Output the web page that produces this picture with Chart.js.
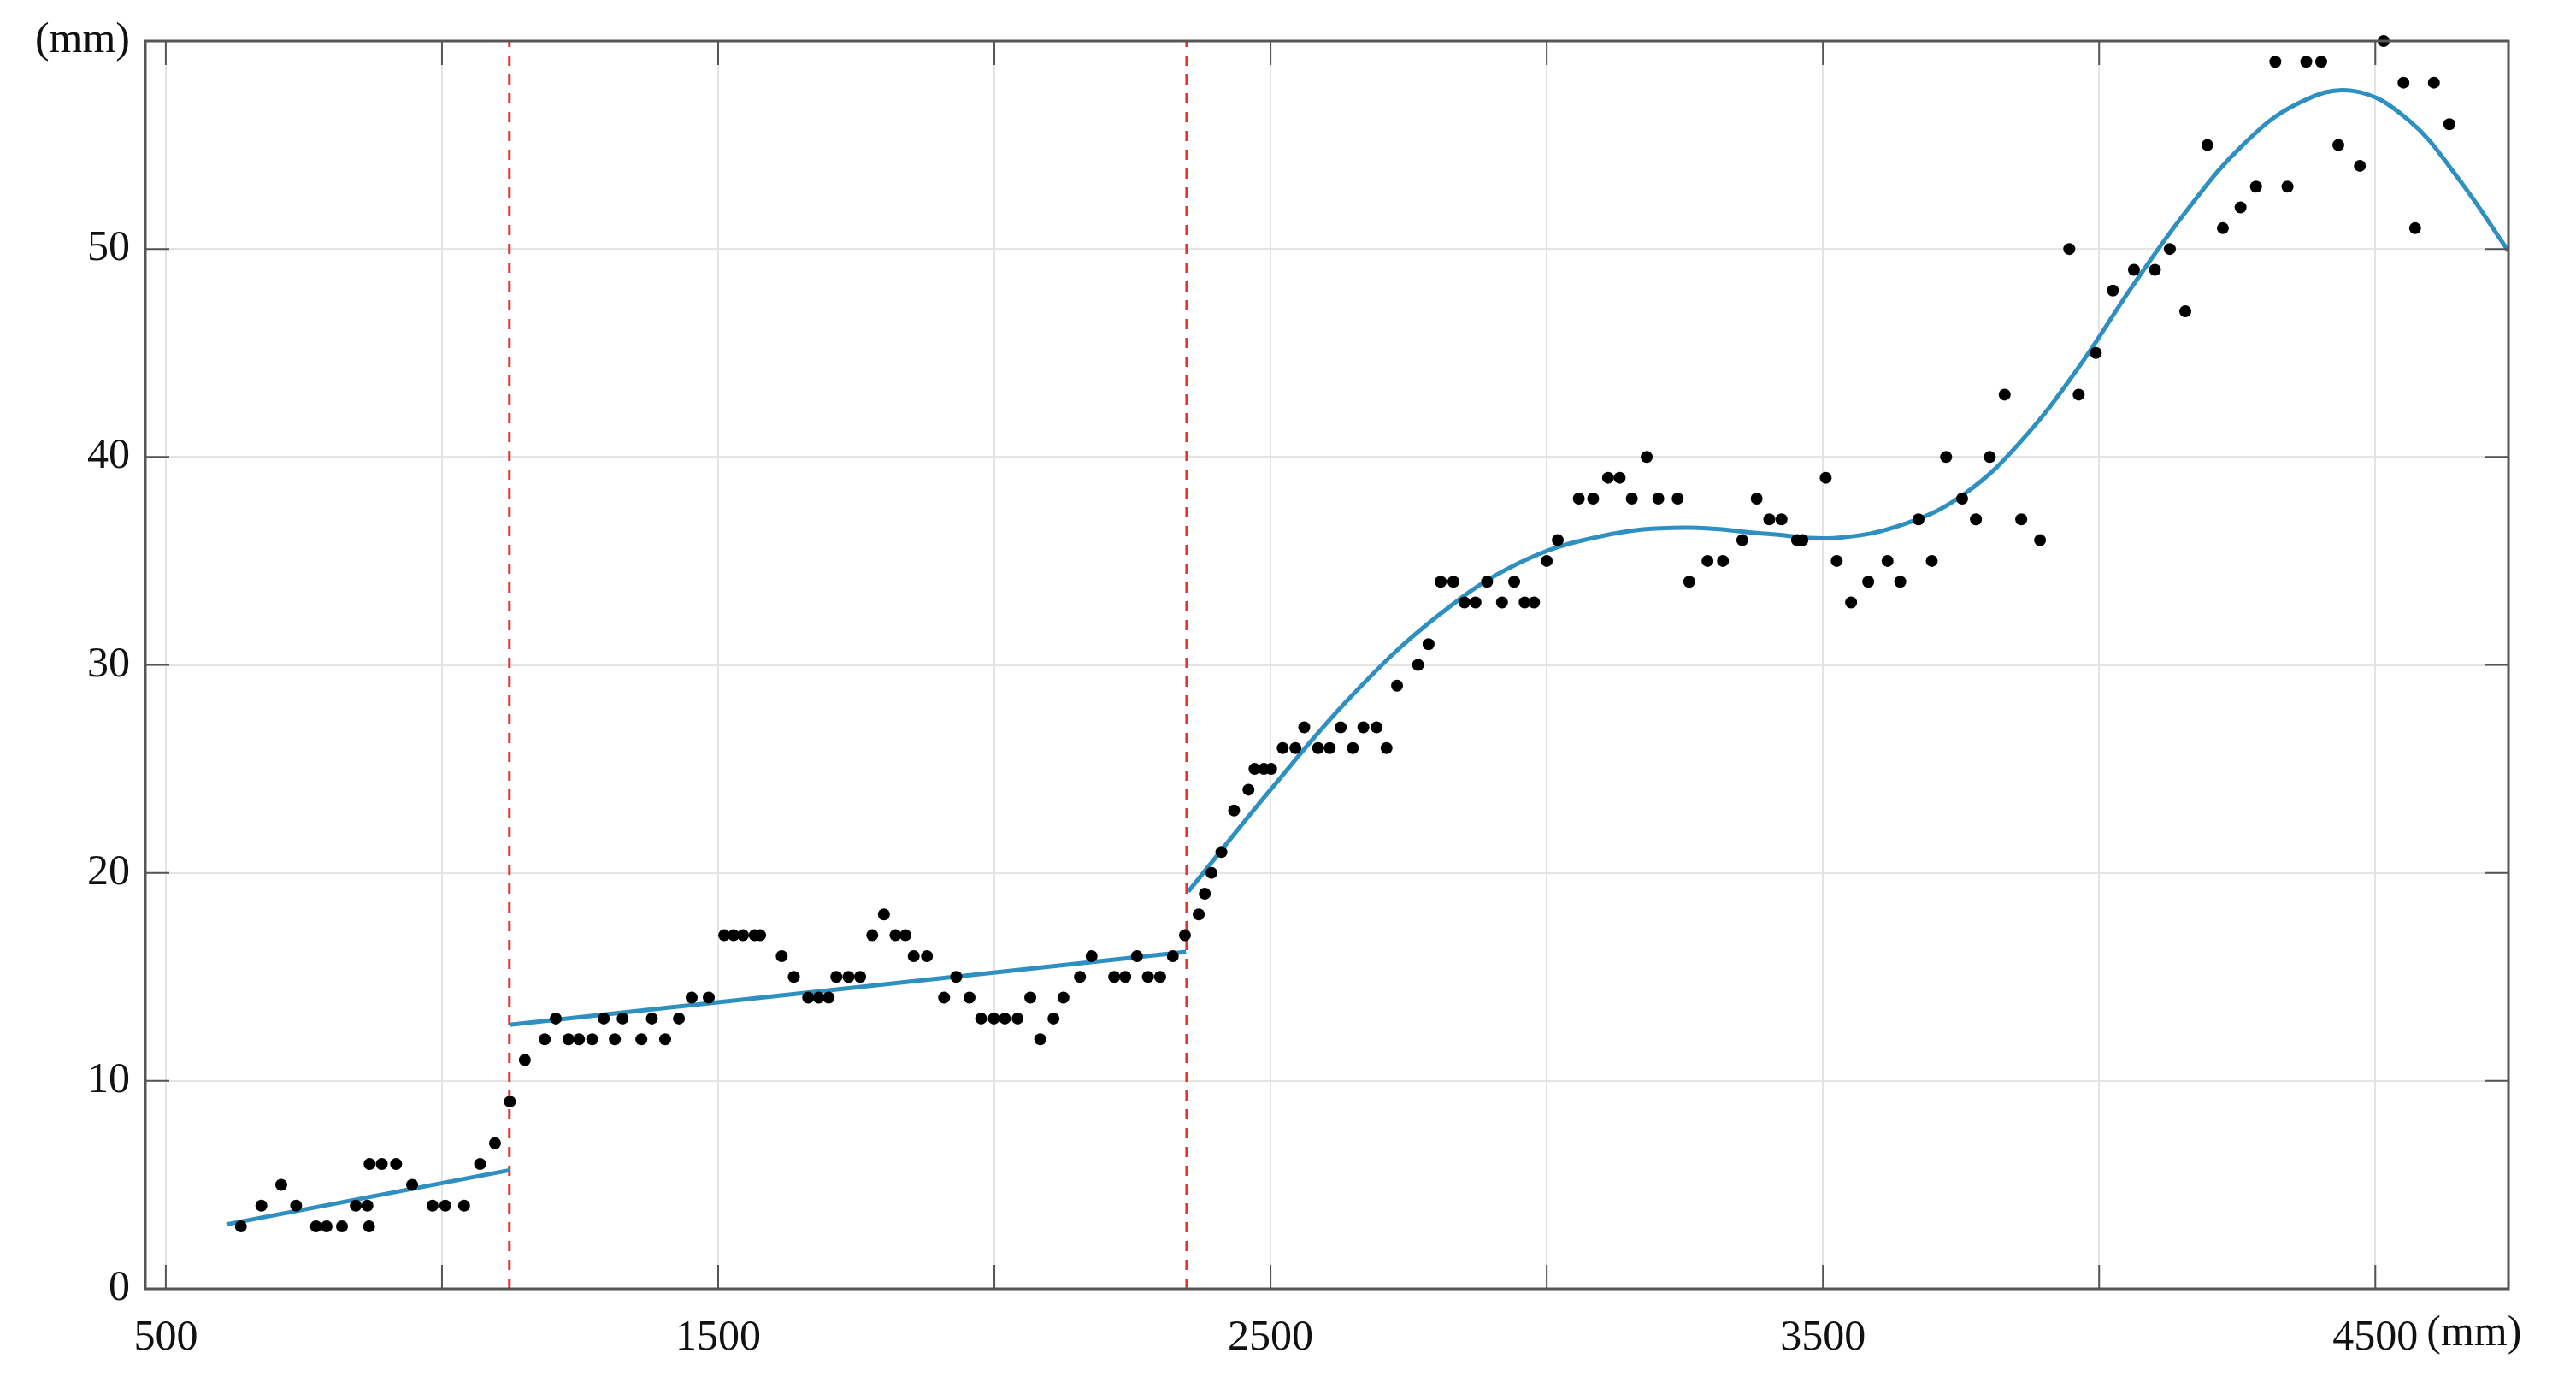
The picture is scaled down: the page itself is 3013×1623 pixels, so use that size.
<!DOCTYPE html>
<html>
<head>
<meta charset="utf-8">
<script src="https://cdn.jsdelivr.net/npm/chart.js@4.4.1/dist/chart.umd.min.js"></script>
<style>
  body { margin: 0; background: #fff; }
  #wrap { width: 3013px; height: 1623px; }
</style>
</head>
<body>
<div id="wrap"><canvas id="chart" width="3013" height="1623"></canvas></div>
<script>
// === DATA (mm) ===
const measuredX = [636, 673, 709, 736, 772, 791, 819, 844, 865, 868, 869, 891, 917, 946, 983, 1006, 1040, 1069, 1096, 1123,
  1150, 1186, 1206, 1229, 1248, 1272, 1293, 1313, 1327, 1361, 1380, 1404, 1429, 1452, 1483, 1511, 1528, 1545, 1566, 1576,
  1615, 1637, 1663, 1682, 1700, 1714, 1736, 1757, 1779, 1800, 1821, 1839, 1854, 1878, 1909, 1931, 1955, 1976, 1999, 2019,
  2042, 2065, 2083, 2107, 2125, 2155, 2176, 2217, 2237, 2258, 2278, 2300, 2323, 2345,
  2370, 2381, 2393, 2411, 2434, 2460, 2471, 2488, 2501, 2522, 2545, 2561, 2586, 2607, 2627, 2649, 2668, 2692, 2710, 2729,
  2767, 2786, 2808, 2831, 2851, 2871, 2892, 2919, 2941, 2960, 2977, 3000, 3020,
  3058, 3084, 3111, 3132, 3154, 3181, 3202, 3237, 3258, 3291, 3319, 3354, 3380, 3403, 3425, 3453, 3463, 3505, 3525, 3551,
  3582, 3617, 3640, 3673, 3697, 3723, 3752, 3777, 3802, 3829, 3859, 3893, 3946, 3963, 3994,
  4025, 4063, 4101, 4128, 4156, 4196, 4224, 4256, 4284, 4319, 4341, 4375, 4402, 4433, 4472, 4515, 4551, 4572, 4606, 4634];
const measuredY = [3, 4, 5, 4, 3, 3, 3, 4, 4, 3, 6, 6, 6, 5, 4, 4, 4, 6, 7, 9,
  11, 12, 13, 12, 12, 12, 13, 12, 13, 12, 13, 12, 13, 14, 14, 17, 17, 17, 17, 17,
  16, 15, 14, 14, 14, 15, 15, 15, 17, 18, 17, 17, 16, 16, 14, 15, 14, 13, 13, 13,
  13, 14, 12, 13, 14, 15, 16, 15, 15, 16, 15, 15, 16, 17,
  18, 19, 20, 21, 23, 24, 25, 25, 25, 26, 26, 27, 26, 26, 27, 26, 27, 27, 26, 29,
  30, 31, 34, 34, 33, 33, 34, 33, 34, 33, 33, 35, 36,
  38, 38, 39, 39, 38, 40, 38, 38, 34, 35, 35, 36, 38, 37, 37, 36, 36, 39, 35, 33,
  34, 35, 34, 37, 35, 40, 38, 37, 40, 43, 37, 36, 50, 43, 45,
  48, 49, 49, 50, 47, 55, 51, 52, 53, 59, 53, 59, 59, 55, 54, 60, 58, 51, 58, 56];

// fitted segments
const fit1X = [610, 1122];
const fit1Y = [3.1, 5.7];
const fit2X = [1122, 2347];
const fit2Y = [12.7, 16.2];
const fit3X = [2351, 2500, 2650, 2800, 2950, 3100, 3250, 3400, 3520, 3650, 3760, 3860, 3960, 4060, 4160, 4260, 4360, 4460, 4560, 4650, 4741];
const fit3Y = [19.1, 24, 28.6, 32.3, 34.9, 36.2, 36.6, 36.3, 36.1, 36.8, 38.3, 40.8, 44.2, 48.2, 51.9, 55, 57, 57.6, 56.2, 53.4, 49.9];

const breakX = [1122, 2348];
const xTicks = [500, 1000, 1500, 2000, 2500, 3000, 3500, 4000, 4500];
const xLabels = [500, 1500, 2500, 3500, 4500];
const yTicks = [0, 10, 20, 30, 40, 50, 60];

const pts = (xs, ys) => xs.map((x, i) => ({ x: x, y: ys[i] }));
const BLUE = '#2e8fc1';
const FONT = { family: '"Liberation Serif", "DejaVu Serif", serif', size: 50 };

const datasets = [
  { data: pts(measuredX, measuredY), showLine: false, pointRadius: 7, pointBackgroundColor: '#000', pointBorderWidth: 0, clip: false, order: 0 },
  { data: pts(fit1X, fit1Y), showLine: true, borderColor: BLUE, borderWidth: 5, pointRadius: 0, order: 1 },
  { data: pts(fit2X, fit2Y), showLine: true, borderColor: BLUE, borderWidth: 5, pointRadius: 0, order: 1 },
  { data: pts(fit3X, fit3Y), showLine: true, borderColor: BLUE, borderWidth: 5, pointRadius: 0, tension: 0.4, order: 1 }
];
breakX.forEach(x => {
  datasets.push({ data: [{ x: x, y: 0 }, { x: x, y: 60 }], showLine: true, borderColor: '#e8342f', borderWidth: 3, borderDash: [12, 10], pointRadius: 0, order: 2 });
});

// frame, inward tick marks and the x unit label
const framePlugin = {
  id: 'frame',
  afterDraw(chart) {
    const { ctx, chartArea: a, scales } = chart;
    ctx.save();
    ctx.strokeStyle = '#555';
    ctx.lineWidth = 3;
    ctx.strokeRect(a.left, a.top, a.right - a.left, a.bottom - a.top);
    ctx.lineWidth = 2;
    const len = 28;
    xTicks.forEach(v => {
      const px = scales.x.getPixelForValue(v);
      ctx.beginPath();
      ctx.moveTo(px, a.bottom); ctx.lineTo(px, a.bottom - len);
      ctx.moveTo(px, a.top); ctx.lineTo(px, a.top + len);
      ctx.stroke();
    });
    yTicks.forEach(v => {
      const py = scales.y.getPixelForValue(v);
      ctx.beginPath();
      ctx.moveTo(a.left, py); ctx.lineTo(a.left + len, py);
      ctx.moveTo(a.right, py); ctx.lineTo(a.right - len, py);
      ctx.stroke();
    });
    ctx.fillStyle = '#111';
    ctx.font = FONT.size + 'px ' + FONT.family;
    ctx.textBaseline = 'top';
    ctx.fillText('(mm)', scales.x.getPixelForValue(4500) + 60, a.bottom + 28);
    ctx.restore();
  }
};

new Chart(document.getElementById('chart'), {
  type: 'scatter',
  data: { datasets: datasets },
  plugins: [framePlugin],
  options: {
    responsive: false,
    devicePixelRatio: 1,
    animation: false,
    layout: { padding: { top: 48, right: 79, left: 0, bottom: 0 } },
    plugins: { legend: { display: false }, tooltip: { enabled: false } },
    scales: {
      x: {
        type: 'linear', min: 463, max: 4741,
        afterBuildTicks: axis => { axis.ticks = xTicks.map(v => ({ value: v })); },
        afterFit: axis => { axis.height = 116; },
        ticks: {
          autoSkip: false, maxRotation: 0, color: '#111', font: FONT, padding: 28,
          callback: v => xLabels.includes(v) ? String(v) : ''
        },
        grid: { color: '#e4e4e4', lineWidth: 2, drawTicks: false },
        border: { display: false }
      },
      y: {
        min: 0, max: 60,
        afterBuildTicks: axis => { axis.ticks = yTicks.map(v => ({ value: v })); },
        afterFit: axis => { axis.width = 170; },
        ticks: {
          color: '#111', font: FONT, padding: 18,
          callback: v => v === 60 ? '(mm)' : String(v)
        },
        grid: { color: '#e4e4e4', lineWidth: 2, drawTicks: false },
        border: { display: false }
      }
    }
  }
});
</script>
</body>
</html>
